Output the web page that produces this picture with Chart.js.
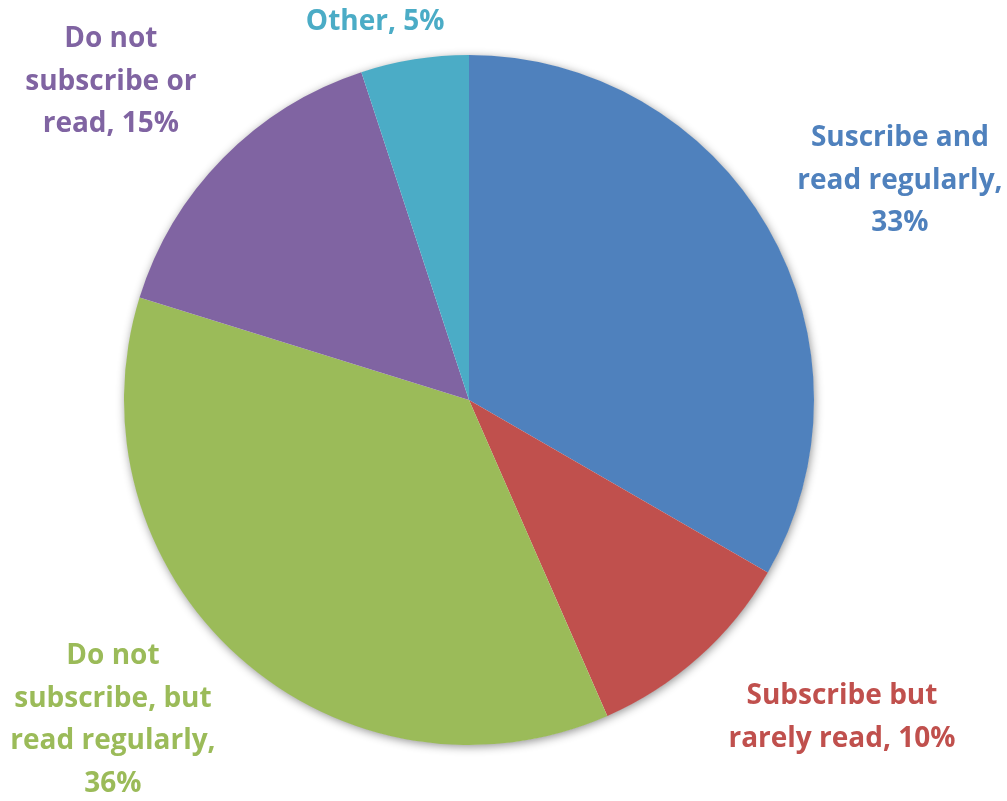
<!DOCTYPE html>
<html>
<head>
<meta charset="utf-8">
<script src="https://cdn.jsdelivr.net/npm/chart.js@4"></script>
<style>
  html, body { margin: 0; padding: 0; background: #fff; }
  #wrap { width: 1007px; height: 801px; }
</style>
</head>
<body>
<div id="wrap"><canvas id="readChart" width="1007" height="801"></canvas></div>
<script>
var categories = ['Suscribe and read regularly', 'Subscribe but rarely read', 'Do not subscribe, but read regularly', 'Do not subscribe or read', 'Other'];
var shares = [33, 10, 36, 15, 5];
var sliceColors = ['#4F81BD', '#C0504D', '#9BBB59', '#8064A2', '#4BACC6'];
var labelLines = [
  ['Suscribe and', 'read regularly,'],
  ['Subscribe but', 'rarely read,'],
  ['Do not', 'subscribe, but', 'read regularly,'],
  ['Do not', 'subscribe or', 'read,'],
  ['Other,']
];

// where each label block sits, in pie radii from the centre
var labelSpots = [
  { x: 1.249, y: -0.635 },
  { x: 1.081, y: 0.920 },
  { x: -1.032, y: 0.928 },
  { x: -1.038, y: -0.922 },
  { x: -0.272, y: -1.096 }
];

// soft drop shadow behind the whole pie
var pieShadow = {
  id: 'pieShadow',
  beforeDatasetsDraw: function (chart) {
    var arc = chart.getDatasetMeta(0).data[0];
    if (!arc) return;
    var ctx = chart.ctx;
    ctx.save();
    ctx.shadowColor = 'rgba(0,0,0,0.45)';
    ctx.shadowBlur = 10;
    ctx.shadowOffsetX = 1;
    ctx.shadowOffsetY = 2;
    ctx.fillStyle = '#fff';
    ctx.beginPath();
    ctx.arc(arc.x, arc.y, arc.outerRadius - 0.5, 0, Math.PI * 2);
    ctx.fill();
    ctx.restore();
  }
};

// category name + percentage beside each slice
var sliceLabels = {
  id: 'sliceLabels',
  afterDatasetsDraw: function (chart) {
    var ctx = chart.ctx;
    var meta = chart.getDatasetMeta(0);
    ctx.save();
    ctx.font = 'bold 28px "Open Sans"';
    ctx.textAlign = 'center';
    ctx.textBaseline = 'middle';
    var lh = 42.5;
    meta.data.forEach(function (arc, i) {
      var r = arc.outerRadius;
      var cx = arc.x + labelSpots[i].x * r;
      var cy = arc.y + labelSpots[i].y * r;
      var lines = labelLines[i].slice();
      var pct = shares[i] + '%';
      // short labels keep the percentage on their last line
      if (i === 1 || i === 3 || i === 4) {
        lines[lines.length - 1] += ' ' + pct;
      } else {
        lines.push(pct);
      }
      var top = cy - (lines.length - 1) * lh / 2;
      ctx.fillStyle = sliceColors[i];
      lines.forEach(function (t, k) {
        ctx.fillText(t, cx, top + k * lh);
      });
    });
    ctx.restore();
  }
};

new Chart(document.getElementById('readChart').getContext('2d'), {
  type: 'pie',
  data: {
    labels: categories,
    datasets: [{
      data: shares,
      backgroundColor: sliceColors,
      borderWidth: 0
    }]
  },
  options: {
    responsive: false,
    animation: false,
    layout: { padding: { left: 124, right: 193, top: 55, bottom: 56 } },
    plugins: {
      legend: { display: false },
      tooltip: { enabled: false }
    }
  },
  plugins: [pieShadow, sliceLabels]
});
</script>
</body>
</html>
